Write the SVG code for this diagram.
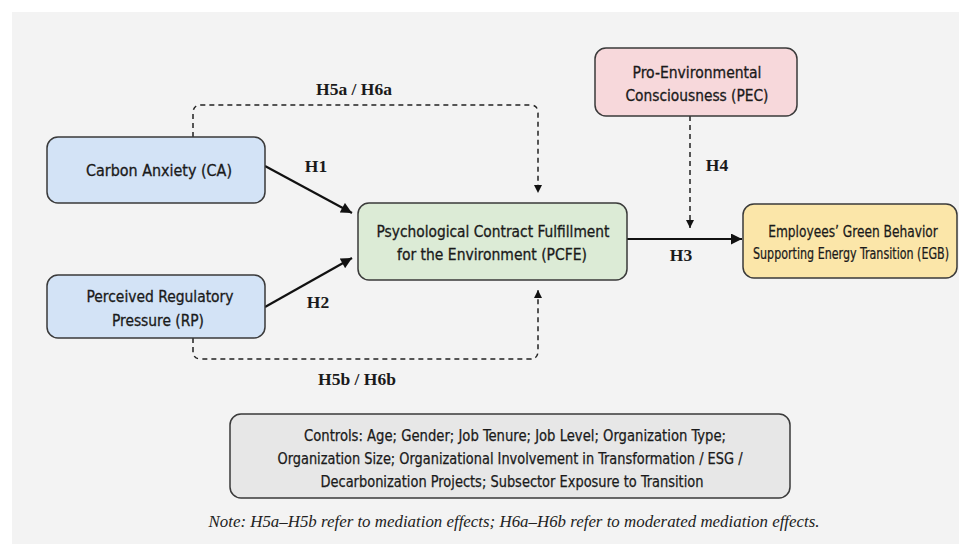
<svg xmlns="http://www.w3.org/2000/svg" width="959" height="544" viewBox="0 0 959 544">
<defs>
<style>
.node{stroke:#3a3a3a;stroke-width:1.5}
.t{font-family:"DejaVu Sans Condensed","Liberation Sans",Arial,sans-serif;font-size:16px;fill:#1a1a1a;stroke:#1a1a1a;stroke-width:0.3;text-anchor:middle}
.c{font-family:"DejaVu Sans Condensed","Liberation Sans",Arial,sans-serif;font-size:15.5px;fill:#1a1a1a;stroke:#1a1a1a;stroke-width:0.25;text-anchor:middle}
.h{font-family:"Liberation Serif","Times New Roman",serif;font-size:17.5px;font-weight:bold;fill:#1a1a1a;text-anchor:middle}
.note{font-family:"Liberation Serif","Times New Roman",serif;font-size:17px;font-style:italic;fill:#222;text-anchor:middle}
.solid{fill:none;stroke:#111;stroke-width:2.2}
.dash{fill:none;stroke:#222;stroke-width:1.5;stroke-dasharray:5 4}
</style>
<marker id="big" viewBox="0 0 10 10" refX="10" refY="5" markerWidth="12" markerHeight="11" markerUnits="userSpaceOnUse" orient="auto">
<path d="M0,0 L10,5 L0,10 z" fill="#111"/>
</marker>
<marker id="sm" viewBox="0 0 10 10" refX="10" refY="5" markerWidth="8" markerHeight="8" markerUnits="userSpaceOnUse" orient="auto">
<path d="M0,0 L10,5 L0,10 z" fill="#111"/>
</marker>
</defs>
<rect x="0" y="0" width="959" height="544" fill="#ffffff"/>
<rect x="12" y="12" width="947" height="532" fill="#f3f3f3"/>

<g id="connectors">
<path class="solid" d="M265,166 L352,213" marker-end="url(#big)"/>
<path class="solid" d="M265,307 L352,258" marker-end="url(#big)"/>
<path class="solid" d="M627,239 L742,239" marker-end="url(#big)"/>
<path class="dash" d="M193,137 V113 Q193,105 201,105 H530 Q538,105 538,113 V193" marker-end="url(#sm)"/>
<path class="dash" d="M193,338 V351 Q193,359 201,359 H530 Q538,359 538,351 V290" marker-end="url(#sm)"/>
<path class="dash" d="M690,116 V228" marker-end="url(#sm)"/>
<text class="h" x="354" y="95">H5a / H6a</text>
<text class="h" x="316" y="172">H1</text>
<text class="h" x="318" y="308">H2</text>
<text class="h" x="681" y="261">H3</text>
<text class="h" x="717" y="171">H4</text>
<text class="h" x="357" y="385">H5b / H6b</text>
</g>

<g id="CA">
<rect class="node" x="47" y="137" width="218" height="66" rx="11" fill="#d3e3f6"/>
<text class="t" x="159" y="176" textLength="146" lengthAdjust="spacingAndGlyphs">Carbon Anxiety (CA)</text>
</g>
<g id="RP">
<rect class="node" x="47" y="275" width="218" height="63" rx="11" fill="#d3e3f6"/>
<text class="t" x="160" y="302" textLength="147" lengthAdjust="spacingAndGlyphs">Perceived Regulatory</text>
<text class="t" x="158" y="326" textLength="92" lengthAdjust="spacingAndGlyphs">Pressure (RP)</text>
</g>
<g id="PCFE">
<rect class="node" x="358" y="203" width="269" height="77" rx="11" fill="#dcebd6"/>
<text class="t" x="493" y="237" textLength="233" lengthAdjust="spacingAndGlyphs">Psychological Contract Fulfillment</text>
<text class="t" x="492" y="260" textLength="190" lengthAdjust="spacingAndGlyphs">for the Environment (PCFE)</text>
</g>
<g id="PEC">
<rect class="node" x="595" y="48" width="202" height="68" rx="11" fill="#f7d8db"/>
<text class="t" x="697" y="78" textLength="129" lengthAdjust="spacingAndGlyphs">Pro-Environmental</text>
<text class="t" x="697" y="101" textLength="143" lengthAdjust="spacingAndGlyphs">Consciousness (PEC)</text>
</g>
<g id="EGB">
<rect class="node" x="743" y="204" width="214" height="74" rx="11" fill="#fbe6a9"/>
<text class="c" transform="translate(853,237) scale(0.8,1)" x="0" y="0" textLength="212" lengthAdjust="spacingAndGlyphs">Employees’ Green Behavior</text>
<text class="c" transform="translate(851,259) scale(0.7,1)" x="0" y="0" textLength="280" lengthAdjust="spacingAndGlyphs">Supporting Energy Transition (EGB)</text>
</g>
<g id="Controls">
<rect class="node" x="230" y="414" width="560" height="84" rx="11" fill="#e7e7e7"/>
<text class="c" x="515" y="441" textLength="422" lengthAdjust="spacingAndGlyphs">Controls: Age; Gender; Job Tenure; Job Level; Organization Type;</text>
<text class="c" x="510" y="464" textLength="465" lengthAdjust="spacingAndGlyphs">Organization Size;  Organizational Involvement in Transformation / ESG /</text>
<text class="c" x="512" y="487" textLength="383" lengthAdjust="spacingAndGlyphs">Decarbonization Projects; Subsector Exposure to Transition</text>
</g>
<text class="note" x="514" y="527" textLength="611" lengthAdjust="spacingAndGlyphs">Note:  H5a–H5b refer to mediation effects; H6a–H6b refer to moderated mediation effects.</text>
</svg>
